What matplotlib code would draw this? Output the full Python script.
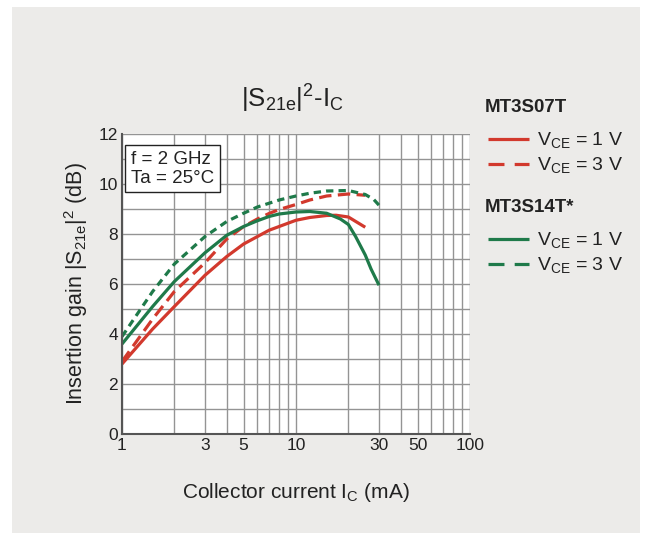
import matplotlib
matplotlib.use('Agg')
import matplotlib.pyplot as plt
from matplotlib.patches import Rectangle
from matplotlib.lines import Line2D

plt.rcParams['font.family'] = ['Liberation Sans', 'DejaVu Sans']
plt.rcParams['mathtext.fontset'] = 'custom'
plt.rcParams['mathtext.rm'] = 'Liberation Sans'
plt.rcParams['mathtext.it'] = 'Liberation Sans:italic'
plt.rcParams['mathtext.bf'] = 'Liberation Sans:bold'

# ---- data ----
ic_07_1v = [1, 1.5, 2, 3, 4, 5, 7, 10, 12, 15, 17, 20, 25]
db_07_1v = [2.8, 4.2, 5.1, 6.35, 7.1, 7.6, 8.15, 8.55, 8.66, 8.74, 8.75, 8.68, 8.27]

ic_07_3v = [1, 1.5, 2, 3, 4, 5, 6, 7, 8, 10, 12, 15, 20, 25]
db_07_3v = [2.9, 4.6, 5.7, 6.85, 7.8, 8.3, 8.6, 8.82, 8.98, 9.18, 9.36, 9.52, 9.6, 9.55]

ic_14_1v = [1, 1.5, 2, 3, 4, 5, 6, 7, 8, 10, 12, 15, 18, 20, 22, 25, 27, 30]
db_14_1v = [3.6, 5.1, 6.1, 7.25, 7.95, 8.3, 8.53, 8.7, 8.8, 8.88, 8.9, 8.83, 8.6, 8.38, 7.9, 7.16, 6.6, 5.95]

ic_14_3v = [1, 1.5, 2, 3, 4, 5, 6, 8, 10, 12, 15, 20, 25, 28, 30]
db_14_3v = [3.9, 5.7, 6.8, 7.9, 8.5, 8.83, 9.08, 9.36, 9.52, 9.63, 9.72, 9.74, 9.58, 9.38, 9.15]

x_ticks = [1, 3, 5, 10, 30, 50, 100]
x_ticklabels = ['1', '3', '5', '10', '30', '50', '100']
x_grid = [1, 2, 3, 4, 5, 6, 7, 8, 9, 10, 20, 30, 40, 50, 60, 70, 80, 90, 100]
y_ticks = [0, 2, 4, 6, 8, 10, 12]
y_grid = list(range(0, 13))

RED = '#d2392d'
GREEN = '#1f7a4a'
BG = '#ecebe9'
TXT = '#222222'

W, H = 647, 533
def fx(px):
    return px / W
def fy(py):
    return 1 - py / H

fig = plt.figure(figsize=(W / 100, H / 100), dpi=100)
fig.patch.set_facecolor('white')
fig.add_artist(Rectangle((fx(12), 0), (640 - 12) / W, (H - 7) / H,
                         transform=fig.transFigure, facecolor=BG,
                         edgecolor='none', zorder=-10))

ax = fig.add_axes([fx(122), fy(434), (470 - 122) / W, (434 - 134) / H])
ax.set_facecolor('white')
ax.set_xscale('log')
ax.set_xlim(1, 100)
ax.set_ylim(0, 12)

ax.set_xticks(x_grid, minor=True)
ax.set_xticks(x_ticks)
ax.set_xticklabels(x_ticklabels)
ax.xaxis.set_minor_formatter(matplotlib.ticker.NullFormatter())
ax.set_yticks(y_grid, minor=True)
ax.set_yticks(y_ticks)
ax.tick_params(which='both', length=0, labelsize=12.5, pad=3, colors=TXT)
ax.grid(True, which='both', color='#949494', linewidth=1.0)
ax.set_axisbelow(True)
for s in ['top', 'right']:
    ax.spines[s].set_visible(False)
for s in ['left', 'bottom']:
    ax.spines[s].set_color('#555555')
    ax.spines[s].set_linewidth(1.5)
    ax.spines[s].set_zorder(5)

lw = 2.3
ax.plot(ic_07_1v, db_07_1v, color=RED, lw=lw, solid_capstyle='butt', zorder=3)
ax.plot(ic_07_3v, db_07_3v, color=RED, lw=lw, dashes=(3.9, 2.0), zorder=3)
ax.plot(ic_14_1v, db_14_1v, color=GREEN, lw=lw, solid_capstyle='butt', zorder=4)
ax.plot(ic_14_3v, db_14_3v, color=GREEN, lw=lw, dashes=(2.3, 1.6), zorder=4)

# info box
ax.text(0.026, 0.944, 'f = 2 GHz\nTa = 25\u00b0C', transform=ax.transAxes,
        ha='left', va='top', fontsize=13.5, color=TXT, linespacing=1.15,
        bbox=dict(boxstyle='square,pad=0.3', facecolor='white',
                  edgecolor=TXT, linewidth=1.0), zorder=6)

# title
fig.text(fx(292), fy(108), r'|S$\mathregular{_{21e}}$|$\mathregular{^{2}}$-I$\mathregular{_{C}}$',
         ha='center', va='baseline', fontsize=18.5, color=TXT)

ax.set_ylabel(r'Insertion gain |S$\mathregular{_{21e}}$|$\mathregular{^{2}}$ (dB)',
              fontsize=15.5, color=TXT, labelpad=6)
ax.set_xlabel(r'Collector current I$\mathregular{_{C}}$ (mA)',
              fontsize=15, color=TXT, labelpad=20)

# legend
def legend_block(title, ytitle, y1, y2, color):
    fig.text(fx(485), fy(ytitle), title, ha='left', va='center',
             fontsize=13.5, fontweight='bold', color=TXT)
    fig.add_artist(Line2D([fx(488), fx(529)], [fy(y1), fy(y1)],
                          transform=fig.transFigure, color=color, lw=lw,
                          solid_capstyle='butt'))
    fig.add_artist(Line2D([fx(488), fx(529)], [fy(y2), fy(y2)],
                          transform=fig.transFigure, color=color, lw=lw,
                          dashes=(5.0, 3.2)))
    fig.text(fx(537), fy(y1 + 6), r'V$\mathregular{_{CE}}$ = 1 V', ha='left',
             va='baseline', fontsize=14, color=TXT)
    fig.text(fx(537), fy(y2 + 6), r'V$\mathregular{_{CE}}$ = 3 V', ha='left',
             va='baseline', fontsize=14, color=TXT)

legend_block('MT3S07T', 108, 139, 164, RED)
legend_block('MT3S14T*', 208, 239, 264, GREEN)

fig.savefig('out.png', dpi=100, facecolor=fig.get_facecolor())
